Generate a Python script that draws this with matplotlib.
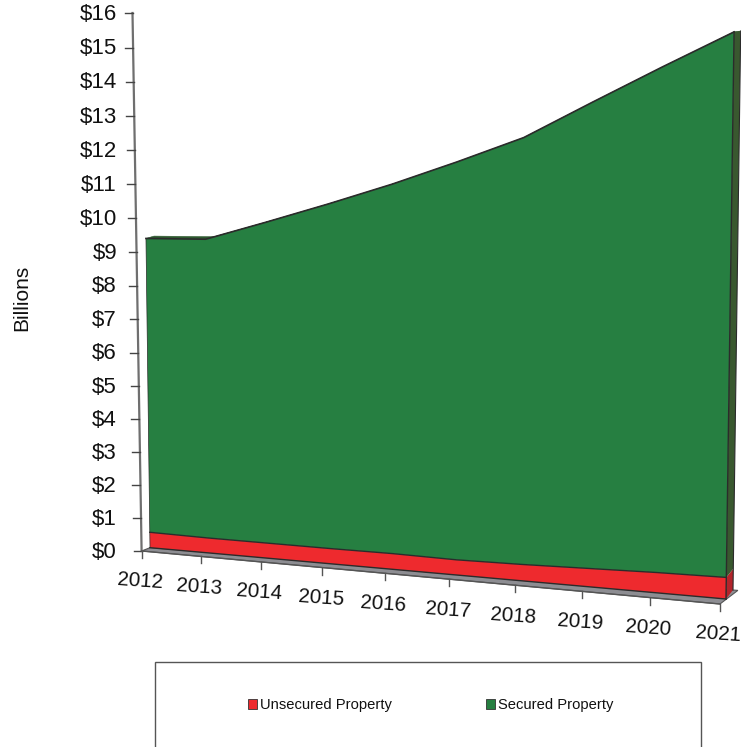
import numpy as np
import matplotlib
matplotlib.use("Agg")
import matplotlib.pyplot as plt
from matplotlib.patches import Patch, Rectangle

plt.rcParams['font.family'] = ['Liberation Sans', 'DejaVu Sans']

# Data, in billions
years = [2012, 2013, 2014, 2015, 2016, 2017, 2018, 2019, 2020, 2021]
unsecured = [0.47, 0.45, 0.45, 0.45, 0.46, 0.44, 0.47, 0.52, 0.57, 0.60]
secured = [8.83, 8.89, 9.45, 10.03, 10.63, 11.32, 12.00, 12.94, 13.86, 14.77]
y_ticks = list(range(0, 17))

GREEN = '#267f41'
RED = '#ee2a2e'
EDGE = '#2b2b2b'
TEXT = '#111111'


# The chart is a perspective drawing, so each plane gets its own homography
# from (year index, value) to pixels
def homography(corners):
    src = [(0, 0), (9, 0), (0, 16), (9, 16)]
    a, b = [], []
    for (u, v), (x, y) in zip(src, corners):
        a.append([u, v, 1, 0, 0, 0, -u * x, -v * x])
        a.append([0, 0, 0, u, v, 1, -u * y, -v * y])
        b += [x, y]
    return np.append(np.linalg.solve(np.array(a, float), np.array(b, float)), 1).reshape(3, 3)


planes = {
    'axis': homography([(141.6, 551), (720, 604), (132.5, 13), (728, 12)]),
    'face': homography([(150, 547.7), (726, 599), (143, 10), (734.4, 8)]),
    'back': homography([(158, 545), (733, 590), (151, 8), (741, 7.5)]),
}


def project(i, v, plane='face'):
    i = np.asarray(i, float)
    v = np.asarray(v, float)
    p = planes[plane] @ np.array([i, v, np.ones_like(i)])
    return p[0] / p[2], p[1] / p[2]


def fill_between_lines(ax, i, low, high, color, plane='face'):
    x1, y1 = project(i, low, plane)
    x2, y2 = project(i, high, plane)
    ax.fill(np.r_[x1, x2[::-1]], np.r_[y1, y2[::-1]], facecolor=color, edgecolor='none', zorder=3)


fig = plt.figure(figsize=(7.41, 7.47), dpi=100)
ax = fig.add_axes([0, 0, 1, 1])
ax.set_xlim(0, 741)
ax.set_ylim(747, 0)
ax.axis('off')

idx = np.arange(len(years))
low = np.zeros(len(years))
mid = np.array(unsecured)
top = mid + np.array(secured)

# Floor
fx1, fy1 = project(idx[[0, -1]], [0, 0], 'axis')
fx2, fy2 = project(9.07, 0, 'back')
fx3, fy3 = project(0, 0)
ax.fill([fx1[0], fx1[1], fx2, fx3], [fy1[0], fy1[1], fy2, fy3],
        facecolor='#8d8d92', edgecolor='#555555', linewidth=0.8, zorder=1)

# Top surface showing behind the face where the line is flat
for n in idx[:-1]:
    seg = idx[n:n + 2]
    xa, ya = project(seg, top[n:n + 2])
    xb, yb = project(seg, top[n:n + 2], 'back')
    ax.fill(np.r_[xa, xb[::-1]], np.r_[ya, yb[::-1]], color='#2f5a30', linewidth=0.4, zorder=2)

# Right hand side wall
for v0, v1, c in [(0, mid[-1], '#b3242b'), (mid[-1], top[-1], '#39582f')]:
    xa, ya = project([9, 9], [v0, v1])
    xb, yb = project([9, 9], [v0, v1], 'back')
    ax.fill(np.r_[xa, xb[::-1]], np.r_[ya, yb[::-1]], facecolor=c, edgecolor='none', zorder=2)
x, y = project([9, 9], [0, top[-1]], 'back')
ax.plot(x, y, color=EDGE, linewidth=0.8, zorder=2)

# Front faces
fill_between_lines(ax, idx, low, mid, RED)
fill_between_lines(ax, idx, mid, top, GREEN)

for vals, lw in [(low, 1.0), (mid, 1.0), (top, 1.2)]:
    x, y = project(idx, vals)
    ax.plot(x, y, color=EDGE, linewidth=lw, zorder=4)
x, y = project([9, 9], [0, top[-1]])
ax.plot(x, y, color=EDGE, linewidth=1.0, zorder=4)
x, y = project([0, 0], [0, top[0]])
ax.plot(x, y, color=EDGE, linewidth=0.5, zorder=4)

# Y axis
x, y = project([0, 0], [0, 16], 'axis')
ax.plot(x, y, color='#6f6f6f', linewidth=1.6, zorder=2)
for t in y_ticks:
    x, y = project(0, t, 'axis')
    ax.plot([x - 8, x], [y, y], color='#444444', linewidth=1.0, zorder=2)
    ax.text(117, y + 1, f'${t}', ha='right', va='center', fontsize=16, color=TEXT)

# X axis
x, y = project(idx[[0, -1]], [0, 0], 'axis')
ax.plot(x, y, color='#555555', linewidth=1.0, zorder=2)
for n, yr in zip(idx, years):
    x, y = project(n, 0, 'axis')
    ax.plot([x, x], [y, y + 7], color='#555555', linewidth=1.0, zorder=2)
    ax.text(x - 1.5, y + 30.5, str(yr), ha='center', va='center', fontsize=14.8, rotation=-4,
            rotation_mode='anchor', color=TEXT)

ax.text(22, 298, 'Billions', rotation=90, ha='center', va='center', fontsize=15, color=TEXT)

# Legend box runs off the bottom of the picture
ax.add_patch(Rectangle((155, 662), 546, 100, facecolor='white', edgecolor='#555555', linewidth=1.0, zorder=1))
handles = [Patch(facecolor=RED, edgecolor='#333333', linewidth=0.6, label='Unsecured Property'),
           Patch(facecolor=GREEN, edgecolor='#333333', linewidth=0.6, label='Secured Property')]
ax.legend(handles=handles, ncol=2, frameon=False, fontsize=10.6, loc='center',
          bbox_to_anchor=(430.5 / 741, 1 - 705 / 747), handlelength=0.62, handleheight=0.62,
          handletextpad=0.2, columnspacing=6.4, labelcolor=TEXT)

fig.savefig('out.png', dpi=100)
